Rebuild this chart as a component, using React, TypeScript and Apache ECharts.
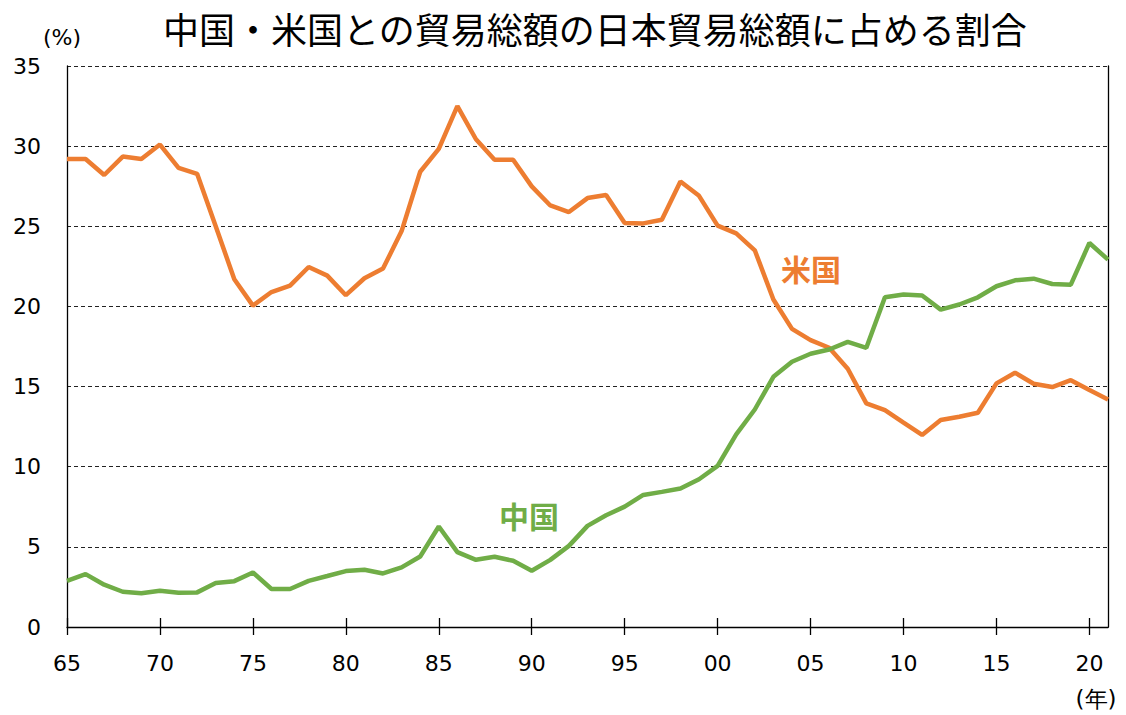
import React, { useEffect, useRef } from "react";
import * as echarts from "echarts";

const years = [
  1965, 1966, 1967, 1968, 1969, 1970, 1971, 1972, 1973, 1974,
  1975, 1976, 1977, 1978, 1979, 1980, 1981, 1982, 1983, 1984,
  1985, 1986, 1987, 1988, 1989, 1990, 1991, 1992, 1993, 1994,
  1995, 1996, 1997, 1998, 1999, 2000, 2001, 2002, 2003, 2004,
  2005, 2006, 2007, 2008, 2009, 2010, 2011, 2012, 2013, 2014,
  2015, 2016, 2017, 2018, 2019, 2020, 2021,
];

const usShare = [
  29.2, 29.2, 28.2, 29.35, 29.2, 30.1, 28.65, 28.27, 25.0, 21.7,
  20.05, 20.9, 21.3, 22.46, 21.92, 20.7, 21.76, 22.36, 24.7, 28.4,
  29.83, 32.5, 30.43, 29.15, 29.15, 27.49, 26.3, 25.89, 26.76, 26.95,
  25.2, 25.18, 25.41, 27.8, 26.9, 25.04, 24.56, 23.5, 20.43, 18.6,
  17.9, 17.42, 16.11, 13.95, 13.53, 12.75, 11.98, 12.91, 13.12, 13.37,
  15.2, 15.86, 15.18, 14.97, 15.4, 14.78, 14.2,
];

const chinaShare = [
  2.88, 3.3, 2.64, 2.2, 2.1, 2.26, 2.14, 2.16, 2.74, 2.86,
  3.4, 2.37, 2.37, 2.88, 3.18, 3.49, 3.57, 3.34, 3.72, 4.4,
  6.27, 4.67, 4.19, 4.38, 4.13, 3.51, 4.19, 5.06, 6.31, 6.97,
  7.51, 8.24, 8.43, 8.64, 9.22, 10.05, 12.02, 13.57, 15.61, 16.55,
  17.05, 17.31, 17.79, 17.42, 20.57, 20.74, 20.68, 19.8, 20.12, 20.57,
  21.26, 21.63, 21.73, 21.4, 21.36, 23.96, 22.92,
];

const xTickValues = [1965, 1970, 1975, 1980, 1985, 1990, 1995, 2000, 2005, 2010, 2015, 2020];

const titleText = "中国・米国との貿易総額の日本貿易総額に占める割合";
const usLabel = "米国";
const chinaLabel = "中国";
const yUnit = "(%)";
const xUnit = "(年)";

const ORANGE = "#ED7D31";
const GREEN = "#70AD47";
const NUM_FONT = "DejaVu Sans, Verdana, sans-serif";
const CJK_FONT = "'Noto Sans CJK JP', 'Noto Sans', sans-serif";

const GRID_TOP = 66;
const GRID_BOTTOM = 88;
const CHART_H = 715;

export default function App() {
  const ref = useRef<HTMLDivElement>(null);

  useEffect(() => {
    document.body.style.margin = "0";
    if (!ref.current) return;
    const chart = echarts.init(ref.current, undefined, { renderer: "svg" });

    const fmtYear = (v: number) => String(v % 100).padStart(2, "0");
    const gridHeight = CHART_H - GRID_TOP - GRID_BOTTOM;

    chart.setOption({
      animation: false,
      backgroundColor: "#ffffff",
      title: {
        text: titleText,
        left: 158,
        top: 5,
        textStyle: {
          fontFamily: CJK_FONT,
          fontSize: 36,
          fontWeight: "normal",
          color: "#000",
        },
      },
      grid: { left: 67, right: 18, top: GRID_TOP, bottom: GRID_BOTTOM, containLabel: false },
      xAxis: [
        {
          type: "value",
          min: 1965,
          max: 2021,
          interval: 5,
          position: "bottom",
          axisLine: { show: true, lineStyle: { color: "#000", width: 1.3 } },
          axisTick: {
            show: true,
            length: 8,
            inside: false,
            customValues: xTickValues,
            lineStyle: { color: "#000", width: 1.3 },
          },
          axisLabel: {
            show: true,
            customValues: xTickValues,
            formatter: (v: number) => fmtYear(v),
            fontFamily: NUM_FONT,
            fontSize: 22,
            color: "#000",
            margin: 25,
          },
          splitLine: { show: false },
        },
        {
          type: "value",
          min: 1965,
          max: 2021,
          interval: 5,
          position: "top",
          offset: -gridHeight,
          axisLine: { show: false },
          axisTick: {
            show: true,
            length: 9,
            inside: false,
            customValues: xTickValues,
            lineStyle: { color: "#000", width: 1.3 },
          },
          axisLabel: { show: false },
          splitLine: { show: false },
        },
      ],
      yAxis: [
        {
          type: "value",
          min: 0,
          max: 35,
          interval: 5,
          axisLine: { show: true, lineStyle: { color: "#000", width: 1.3 } },
          axisTick: { show: false },
          axisLabel: {
            fontFamily: NUM_FONT,
            fontSize: 22,
            color: "#000",
            margin: 26,
          },
          splitLine: {
            show: true,
            lineStyle: { color: "#222", type: [4, 3], width: 1.2 },
          },
        },
        {
          type: "value",
          min: 0,
          max: 35,
          interval: 5,
          position: "right",
          axisLine: { show: true, lineStyle: { color: "#000", width: 1.3 } },
          axisTick: { show: false },
          axisLabel: { show: false },
          splitLine: { show: false },
        },
      ],
      series: [
        {
          name: usLabel,
          type: "line",
          data: years.map((y, i) => [y, usShare[i]]),
          symbol: "none",
          lineStyle: { color: ORANGE, width: 4.5 },
          z: 3,
        },
        {
          name: chinaLabel,
          type: "line",
          data: years.map((y, i) => [y, chinaShare[i]]),
          symbol: "none",
          lineStyle: { color: GREEN, width: 4.5 },
          z: 4,
        },
      ],
      graphic: [
        {
          type: "text",
          x: 811,
          y: 268,
          style: {
            text: usLabel,
            fontFamily: CJK_FONT,
            fontSize: 30,
            fontWeight: "bold",
            fill: ORANGE,
            align: "center",
            verticalAlign: "middle",
          },
        },
        {
          type: "text",
          x: 529,
          y: 515,
          style: {
            text: chinaLabel,
            fontFamily: CJK_FONT,
            fontSize: 30,
            fontWeight: "bold",
            fill: GREEN,
            align: "center",
            verticalAlign: "middle",
          },
        },
        {
          type: "text",
          x: 62,
          y: 37,
          style: {
            text: yUnit,
            fontFamily: NUM_FONT,
            fontSize: 22,
            fill: "#000",
            align: "center",
            verticalAlign: "middle",
          },
        },
        {
          type: "text",
          x: 1096,
          y: 699,
          style: {
            text: xUnit,
            fontFamily: NUM_FONT,
            fontSize: 23,
            fill: "#000",
            align: "center",
            verticalAlign: "middle",
          },
        },
      ],
    });

    return () => chart.dispose();
  }, []);

  return <div ref={ref} style={{ width: 1126, height: 715 }} />;
}
